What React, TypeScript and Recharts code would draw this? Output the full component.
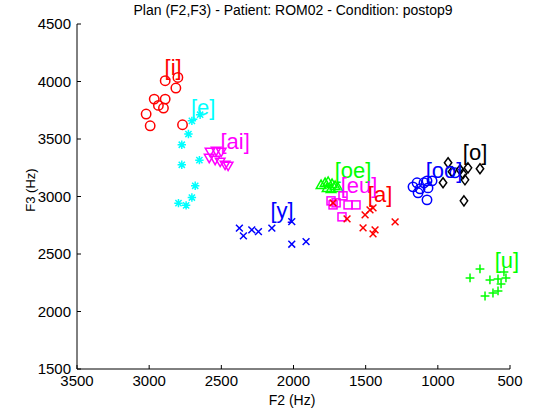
import React from 'react';
import { ScatterChart, Scatter, XAxis, YAxis } from 'recharts';

const FONT = '"Liberation Sans", Arial, Helvetica, sans-serif';

// [i] red circles
const iF2 = [2889, 2801, 2815, 2965, 2889, 2936, 2901, 3021, 2993, 2769];
const iF3 = [4007, 4035, 3943, 3847, 3847, 3792, 3769, 3717, 3615, 3624];
// [e] cyan stars
const eF2 = [2647, 2704, 2728, 2774, 2774, 2652, 2681, 2704, 2797, 2744];
const eF3 = [3711, 3658, 3543, 3450, 3276, 3316, 3093, 2991, 2942, 2923];
// [ai] magenta down triangles
const aiF2 = [2578, 2536, 2501, 2584, 2543, 2508, 2474, 2453];
const aiF3 = [3389, 3397, 3389, 3336, 3319, 3302, 3276, 3267];
// [y] blue x
const yF2 = [2375, 2347, 2289, 2243, 2150, 2012, 2012, 1913];
const yF3 = [2725, 2658, 2710, 2695, 2725, 2782, 2585, 2608];
// [oe] green up triangles
const oeF2 = [1809, 1781, 1760, 1733, 1712, 1767, 1740, 1691];
const oeF3 = [3101, 3119, 3128, 3110, 3093, 3075, 3067, 3075];
// [eu] magenta squares
const euF2 = [1740, 1726, 1705, 1657, 1622, 1567, 1664];
const euF3 = [2962, 2927, 2945, 3006, 2927, 2927, 2823];
// [a] red x
const aF2 = [1726, 1629, 1504, 1470, 1449, 1518, 1435, 1449, 1296];
const aF3 = [2945, 2806, 2840, 2884, 2901, 2727, 2710, 2675, 2779];
// [oo] blue circles
const ooF2 = [1172, 1144, 1123, 1096, 1075, 1040, 1137, 1075, 1068, 881];
const ooF3 = [3084, 3119, 3067, 3119, 3136, 3136, 3032, 2971, 3075, 3206];
// [o] black diamonds
const oF2 = [929, 902, 964, 846, 826, 812, 791, 708, 819];
const oF3 = [3293, 3215, 3119, 3232, 3197, 3145, 3249, 3241, 2962];
// [u] green plus
const uF2 = [777, 708, 639, 583, 542, 528, 673, 618, 583, 562];
const uF3 = [2292, 2370, 2275, 2283, 2344, 2292, 2135, 2161, 2179, 2240];

// vowel labels
const labelText = ['[i]', '[e]', '[ai]', '[y]', '[oe]', '[eu]', '[a]', '[oo]', '[o]', '[u]'];
const labelF2 = [2834, 2626, 2404, 2079, 1587, 1546, 1400, 957, 742, 521];
const labelF3 = [4120, 3772, 3476, 2875, 3223, 3093, 3014, 3223, 3380, 2440];

const xTicks = [3500, 3000, 2500, 2000, 1500, 1000, 500];
const yTicks = [1500, 2000, 2500, 3000, 3500, 4000, 4500];

const zip = (xs: number[], ys: number[]) => xs.map((x, i) => ({ x, y: ys[i] }));

const series = [
  { name: 'i', data: zip(iF2, iF3), color: '#ff0000', marker: 'circle' },
  { name: 'e', data: zip(eF2, eF3), color: '#00ffff', marker: 'star' },
  { name: 'ai', data: zip(aiF2, aiF3), color: '#ff00ff', marker: 'tdown' },
  { name: 'y', data: zip(yF2, yF3), color: '#0000ff', marker: 'x' },
  { name: 'oe', data: zip(oeF2, oeF3), color: '#00ff00', marker: 'tup' },
  { name: 'eu', data: zip(euF2, euF3), color: '#ff00ff', marker: 'square' },
  { name: 'a', data: zip(aF2, aF3), color: '#ff0000', marker: 'x' },
  { name: 'oo', data: zip(ooF2, ooF3), color: '#0000ff', marker: 'circle' },
  { name: 'o', data: zip(oF2, oF3), color: '#000000', marker: 'diamond' },
  { name: 'u', data: zip(uF2, uF3), color: '#00ff00', marker: 'plus' },
];

const labelData = labelText.map((t, i) => ({
  x: labelF2[i],
  y: labelF3[i],
  text: t,
  color: series[i].color,
}));

function makeShape(kind: string, color: string) {
  return (props: any) => {
    const { cx, cy } = props;
    if (cx == null || cy == null) return <g />;
    const p = { stroke: color, strokeWidth: 1.5, fill: 'none' };
    switch (kind) {
      case 'circle':
        return <circle cx={cx} cy={cy} r={4.7} {...p} />;
      case 'star': {
        const s = 4.2;
        const d = 3.1;
        return (
          <path
            d={`M${cx - s},${cy}L${cx + s},${cy}M${cx},${cy - s}L${cx},${cy + s}M${cx - d},${cy - d}L${cx + d},${cy + d}M${cx - d},${cy + d}L${cx + d},${cy - d}`}
            {...p}
          />
        );
      }
      case 'tdown':
        return <path d={`M${cx - 4.8},${cy - 3.6}L${cx + 4.8},${cy - 3.6}L${cx},${cy + 4.8}Z`} {...p} />;
      case 'tup':
        return <path d={`M${cx - 4.8},${cy + 3.6}L${cx + 4.8},${cy + 3.6}L${cx},${cy - 4.8}Z`} {...p} />;
      case 'x': {
        const d = 3.4;
        return <path d={`M${cx - d},${cy - d}L${cx + d},${cy + d}M${cx - d},${cy + d}L${cx + d},${cy - d}`} {...p} />;
      }
      case 'square':
        return <rect x={cx - 4} y={cy - 4} width={8} height={8} {...p} />;
      case 'diamond':
        return <path d={`M${cx},${cy - 5}L${cx + 3.7},${cy}L${cx},${cy + 5}L${cx - 3.7},${cy}Z`} {...p} />;
      case 'plus': {
        const s = 4.4;
        return <path d={`M${cx - s},${cy}L${cx + s},${cy}M${cx},${cy - s}L${cx},${cy + s}`} {...p} />;
      }
      default:
        return <g />;
    }
  };
}

const labelShape = (props: any) => {
  const { cx, cy, payload } = props;
  if (cx == null || cy == null) return <g />;
  return (
    <text
      x={cx}
      y={cy}
      textAnchor="middle"
      dominantBaseline="central"
      fill={payload.color}
      fontSize={22}
      fontFamily={FONT}
    >
      {payload.text}
    </text>
  );
};

const tickStyle = { fill: '#000', fontSize: 15, fontFamily: FONT };

export default function App() {
  return (
    <div style={{ position: 'absolute', left: 0, top: 0, width: 533, height: 419, background: '#fff' }}>
      <ScatterChart width={533} height={419} margin={{ top: 24, right: 23, bottom: 0, left: 0 }}>
        <XAxis
          type="number"
          dataKey="x"
          domain={[500, 3500]}
          ticks={xTicks}
          reversed
          height={50}
          tickSize={-4}
          tickMargin={10}
          axisLine={{ stroke: '#000' }}
          tickLine={{ stroke: '#000' }}
          tick={tickStyle}
          interval={0}
        />
        <YAxis
          type="number"
          dataKey="y"
          domain={[1500, 4500]}
          ticks={yTicks}
          width={77}
          tickSize={-4}
          tickMargin={10}
          axisLine={{ stroke: '#000' }}
          tickLine={{ stroke: '#000' }}
          tick={tickStyle}
          interval={0}
        />
        {series.map((s) => (
          <Scatter
            key={s.name}
            name={s.name}
            data={s.data}
            shape={makeShape(s.marker, s.color)}
            isAnimationActive={false}
          />
        ))}
        <Scatter name="labels" data={labelData} shape={labelShape} isAnimationActive={false} />
      </ScatterChart>
      <svg
        width={533}
        height={419}
        style={{ position: 'absolute', left: 0, top: 0, pointerEvents: 'none' }}
      >
        <text x={293} y={15} textAnchor="middle" fontSize={14} fontFamily={FONT} fill="#000">
          Plan (F2,F3) - Patient: ROM02 - Condition: postop9
        </text>
        <text x={292} y={404.5} textAnchor="middle" fontSize={14} fontFamily={FONT} fill="#000">
          F2 (Hz)
        </text>
        <text
          x={0}
          y={0}
          transform="translate(35,190) rotate(-90)"
          textAnchor="middle"
          fontSize={13}
          fontFamily={FONT}
          fill="#000"
        >
          F3 (Hz)
        </text>
      </svg>
    </div>
  );
}
